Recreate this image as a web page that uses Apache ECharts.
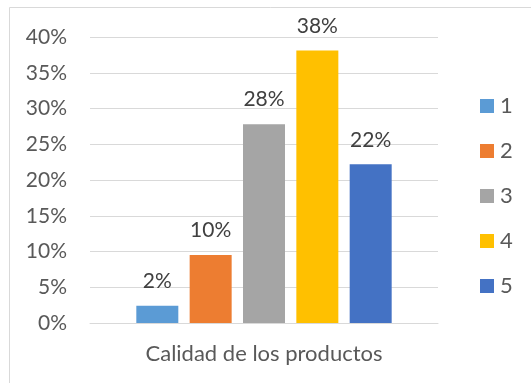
<!DOCTYPE html>
<html>
<head>
<meta charset="utf-8">
<script src="https://cdn.jsdelivr.net/npm/echarts@6/dist/echarts.min.js"></script>
<style>
  html, body { margin: 0; padding: 0; background: #ffffff; }
  #chart { width: 531px; height: 383px; }
</style>
</head>
<body>
<div id="chart"></div>
<script>
// Share of responses per rating (1-5) for product quality
const categories = ['Calidad de los productos'];
const seriesNames = ['1', '2', '3', '4', '5'];
const seriesValues = [0.024, 0.095, 0.278, 0.381, 0.222];
const seriesColors = ['#5B9BD5', '#ED7D31', '#A5A5A5', '#FFC000', '#4472C4'];
const yTicks = { min: 0, max: 0.4, interval: 0.05 };

const FONT = 'Lato';
const pct = v => Math.round(v * 100) + '%';

const chart = echarts.init(document.getElementById('chart'), null, { renderer: 'canvas' });

const series = seriesNames.map((name, i) => ({
  name: name,
  type: 'bar',
  data: [seriesValues[i]],
  barWidth: 42,
  barGap: '27%',
  itemStyle: { color: seriesColors[i] },
  label: {
    show: true,
    position: 'top',
    distance: 14,
    formatter: p => pct(p.value),
    color: '#404040',
    fontFamily: FONT,
    fontSize: 21
  }
}));

chart.setOption({
  animation: false,
  backgroundColor: '#ffffff',
  graphic: [{
    type: 'rect',
    shape: { x: 9.5, y: 7.5, width: 700, height: 700 },
    style: { fill: 'none', stroke: '#D9D9D9', lineWidth: 1 },
    silent: true
  }],
  grid: { left: 90, right: 93, top: 37, bottom: 60, containLabel: false },
  legend: {
    orient: 'vertical',
    left: 480,
    top: 94,
    padding: 0,
    itemWidth: 14,
    itemHeight: 14,
    itemGap: 21,
    icon: 'rect',
    data: seriesNames,
    textStyle: { color: '#595959', fontFamily: FONT, fontSize: 22, lineHeight: 24, padding: [0, 0, 0, 1] }
  },
  xAxis: {
    type: 'category',
    data: categories,
    axisLine: { show: true, lineStyle: { color: '#D9D9D9', width: 1 } },
    axisTick: { show: false },
    axisLabel: { color: '#595959', fontFamily: FONT, fontSize: 22, margin: 20 }
  },
  yAxis: {
    type: 'value',
    min: yTicks.min,
    max: yTicks.max,
    interval: yTicks.interval,
    axisLine: { show: false },
    axisTick: { show: false },
    splitLine: { lineStyle: { color: '#D9D9D9', width: 1 } },
    axisLabel: {
      color: '#595959',
      fontFamily: FONT,
      fontSize: 21,
      margin: 23,
      formatter: v => pct(v)
    }
  },
  series: series
});
</script>
</body>
</html>
